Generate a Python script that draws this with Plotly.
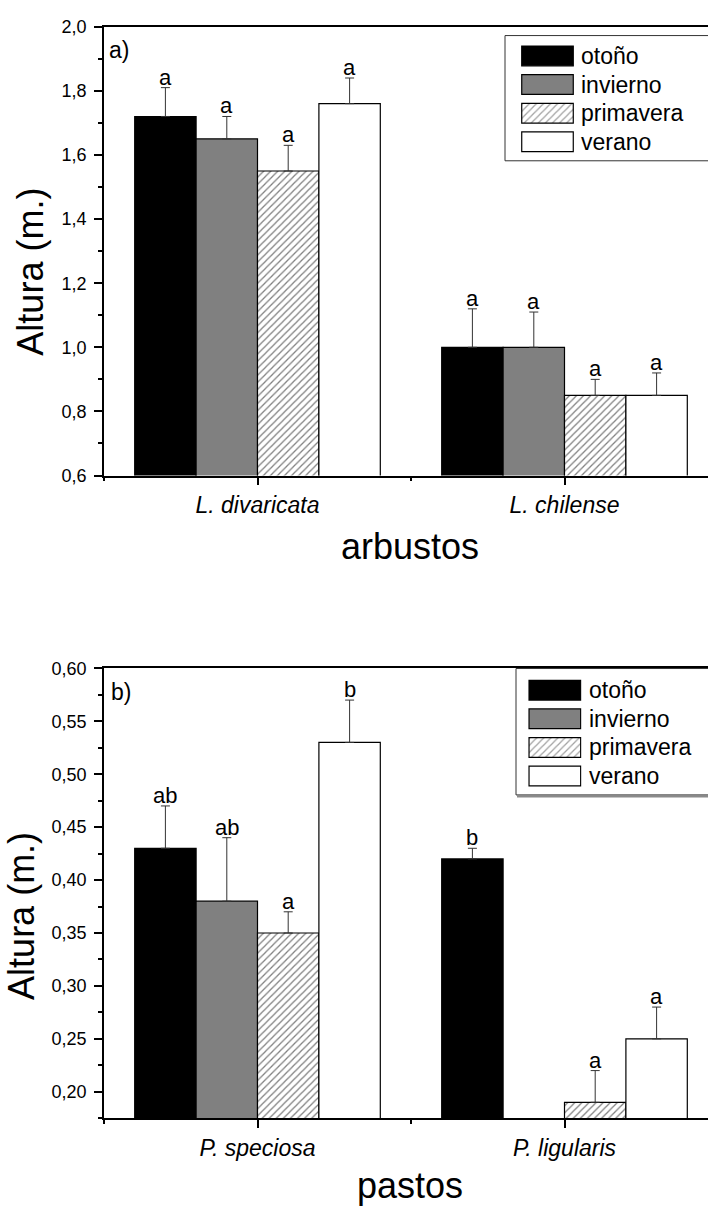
import plotly.graph_objects as go

# ---- data -------------------------------------------------------------
seasons = ["otoño", "invierno", "primavera", "verano"]

shrub_species = ["L. divaricata", "L. chilense"]
shrub_mean = [[1.72, 1.00], [1.65, 1.00], [1.55, 0.85], [1.76, 0.85]]
shrub_err = [[0.09, 0.12], [0.07, 0.11], [0.08, 0.05], [0.08, 0.07]]
shrub_letters = [["a", "a"], ["a", "a"], ["a", "a"], ["a", "a"]]

grass_species = ["P. speciosa", "P. ligularis"]
grass_mean = [[0.43, 0.42], [0.38, None], [0.35, 0.19], [0.53, 0.25]]
grass_err = [[0.04, 0.01], [0.06, None], [0.02, 0.03], [0.04, 0.03]]
grass_letters = [["ab", "b"], ["ab", ""], ["a", "a"], ["b", "a"]]

shrub_ticks = [0.6, 0.8, 1.0, 1.2, 1.4, 1.6, 1.8, 2.0]
grass_ticks = [0.20, 0.25, 0.30, 0.35, 0.40, 0.45, 0.50, 0.55, 0.60]

# ---- styling ----------------------------------------------------------
W, H = 708, 1220
FONT = "Liberation Sans, Arial, sans-serif"
fills = ["#000000", "#808080", "#ffffff", "#ffffff"]
hatches = ["", "", "/", ""]
n_series = len(seasons)
slot = 0.8 / n_series  # bar width in category units (bargap 0.2)


def px(xp):
    return xp / W


def py(yp):
    return 1 - yp / H


def pattern(shape):
    return dict(shape=shape, fgcolor="#000000", bgcolor="#ffffff",
                size=5, solidity=0.25)


fig = go.Figure()
annotations = []

panels = [
    ("x", "y", shrub_species, shrub_mean, shrub_err, shrub_letters),
    ("x2", "y2", grass_species, grass_mean, grass_err, grass_letters),
]

for xa, ya, species, means, errs, letters in panels:
    xs = list(range(len(species)))
    for j, name in enumerate(seasons):
        fig.add_trace(go.Bar(
            x=xs, y=means[j], name=name, showlegend=False,
            xaxis=xa, yaxis=ya,
            marker=dict(color=fills[j], line=dict(color="#000000", width=1.2),
                        pattern=pattern(hatches[j])),
            error_y=dict(type="data", array=errs[j],
                         arrayminus=[0] * len(xs), symmetric=False,
                         color="#333333", thickness=1, width=4.5),
        ))
        # significance letters above each error bar
        for i in xs:
            if not letters[j][i] or means[j][i] is None:
                continue
            annotations.append(dict(
                x=i + (j - (n_series - 1) / 2) * slot,
                y=means[j][i] + errs[j][i],
                xref=xa, yref=ya, text=letters[j][i], showarrow=False,
                xanchor="center", yanchor="bottom", yshift=-4,
                font=dict(family=FONT, size=22, color="#000000"),
            ))

# ---- legends drawn as small bar panels -----------------------------------
legend_boxes = [
    # box left, box top, box bottom, swatch x0, swatch x1, first row, text x
    ("x3", "y3", 505, 26, 153.3, 521.7, 573.3, 46.7, 579.3),
    ("x4", "y4", 516, 669.5, 798, 529, 580.7, 691.5, 587),
]
row_step = 29.1
shapes = []
for k, (xa, ya, bx, btop, bbot, sx0, sx1, row0, tx) in enumerate(legend_boxes):
    fig.add_trace(go.Bar(
        y=list(range(n_series)), x=[1] * n_series, orientation="h",
        width=0.69, offset=-0.345, showlegend=False, hoverinfo="skip",
        xaxis=xa, yaxis=ya,
        marker=dict(color=fills, line=dict(color="#000000", width=1.2),
                    pattern=pattern(hatches)),
    ))
    if k == 1:
        # soft drop shadow under the lower legend frame
        shapes.append(dict(type="line", xref="paper", yref="paper",
                           x0=px(bx + 1), x1=1.05, y0=py(bbot + 1.5), y1=py(bbot + 1.5),
                           line=dict(color="#8a8a8a", width=2), layer="below"))
    shapes.append(dict(type="rect", xref="paper", yref="paper",
                       x0=px(bx), x1=1.05, y0=py(bbot), y1=py(btop),
                       line=dict(color="#333333", width=1), fillcolor="white",
                       layer="below"))
    for j, name in enumerate(seasons):
        annotations.append(dict(
            x=px(tx), y=py(row0 + j * row_step), xref="paper", yref="paper",
            text=name, showarrow=False, xanchor="left", yanchor="middle",
            font=dict(family=FONT, size=23, color="#000000"),
        ))

# ---- titles and panel labels ------------------------------------------
text_items = [
    ("Altura (m.)", 31, 266, -90, 36, "center"),
    ("Altura (m.)", 22, 921, -90, 36, "center"),
    ("arbustos", 410, 545, 0, 36, "center"),
    ("pastos", 410, 1195.5, 0, 36, "center"),
    ("a)", 107, 40.5, 0, 23, "left"),
    ("b)", 109, 693.7, 0, 23, "left"),
]
for txt, xp, yp, ang, size, anchor in text_items:
    annotations.append(dict(
        x=px(xp), y=py(yp), xref="paper", yref="paper", text=txt,
        showarrow=False, textangle=ang, xanchor=anchor, yanchor="middle",
        font=dict(family=FONT, size=size, color="#000000"),
    ))

# ---- axes -------------------------------------------------------------
x_range = [-0.5, -0.5 + 604 / 307]


def cat_axis(domain, ticktext, anchor):
    return dict(
        domain=domain, anchor=anchor, range=x_range,
        tickmode="array", tickvals=list(range(len(ticktext))),
        ticktext=ticktext,
        tickfont=dict(family=FONT, size=23, color="#000000", style="italic"),
        ticks="outside", ticklen=8, tickwidth=1.5, tickcolor="#000000",
        minor=dict(ticks="outside", ticklen=4, tickwidth=1.5,
                   tickcolor="#000000", tick0=-0.5, dtick=1),
        showline=True, linecolor="#000000", linewidth=1.5, mirror=True,
        showgrid=False, zeroline=False, fixedrange=True,
    )


def val_axis(domain, rng, ticks, fmt, minor_step, anchor):
    return dict(
        domain=domain, anchor=anchor, range=rng,
        tickmode="array", tickvals=ticks, tickformat=fmt,
        tickfont=dict(family=FONT, size=18, color="#000000"),
        ticks="outside", ticklen=8, tickwidth=1.5, tickcolor="#000000",
        ticklabelstandoff=4,
        minor=dict(ticks="outside", ticklen=4, tickwidth=1.5,
                   tickcolor="#000000", tick0=ticks[0], dtick=minor_step),
        showline=True, linecolor="#000000", linewidth=1.5, mirror=False,
        showgrid=False, zeroline=False, fixedrange=True,
    )


hidden = dict(visible=False, showgrid=False, zeroline=False, fixedrange=True)

fig.update_layout(
    width=W, height=H,
    margin=dict(l=0, r=0, t=0, b=0),
    paper_bgcolor="white", plot_bgcolor="rgba(0,0,0,0)",
    barmode="group", bargap=0.2, bargroupgap=0,
    separators=",.",
    font=dict(family=FONT, color="#000000"),
    xaxis=cat_axis([px(104), 1], shrub_species, "y"),
    yaxis=val_axis([py(473.3), py(17)], [0.6, 2.0], shrub_ticks, ".1f", 0.1, "x"),
    xaxis2=cat_axis([px(104), 1], grass_species, "y2"),
    yaxis2=val_axis([py(1126.7), py(669.3)], [0.175, 0.60], grass_ticks, ".2f", 0.025, "x2"),
    xaxis3=dict(hidden, domain=[px(521.7 - 1), px(573.3 + 1)], range=[-0.02, 1.02], anchor="y3"),
    yaxis3=dict(hidden, domain=[py(46.7 + 3.5 * row_step), py(46.7 - 0.5 * row_step)],
                range=[n_series - 0.5, -0.5], anchor="x3"),
    xaxis4=dict(hidden, domain=[px(529 - 1), px(580.7 + 1)], range=[-0.02, 1.02], anchor="y4"),
    yaxis4=dict(hidden, domain=[py(691.5 + 3.5 * row_step), py(691.5 - 0.5 * row_step)],
                range=[n_series - 0.5, -0.5], anchor="x4"),
    shapes=shapes,
    annotations=annotations,
    showlegend=False,
)

fig.write_html("out.html")
